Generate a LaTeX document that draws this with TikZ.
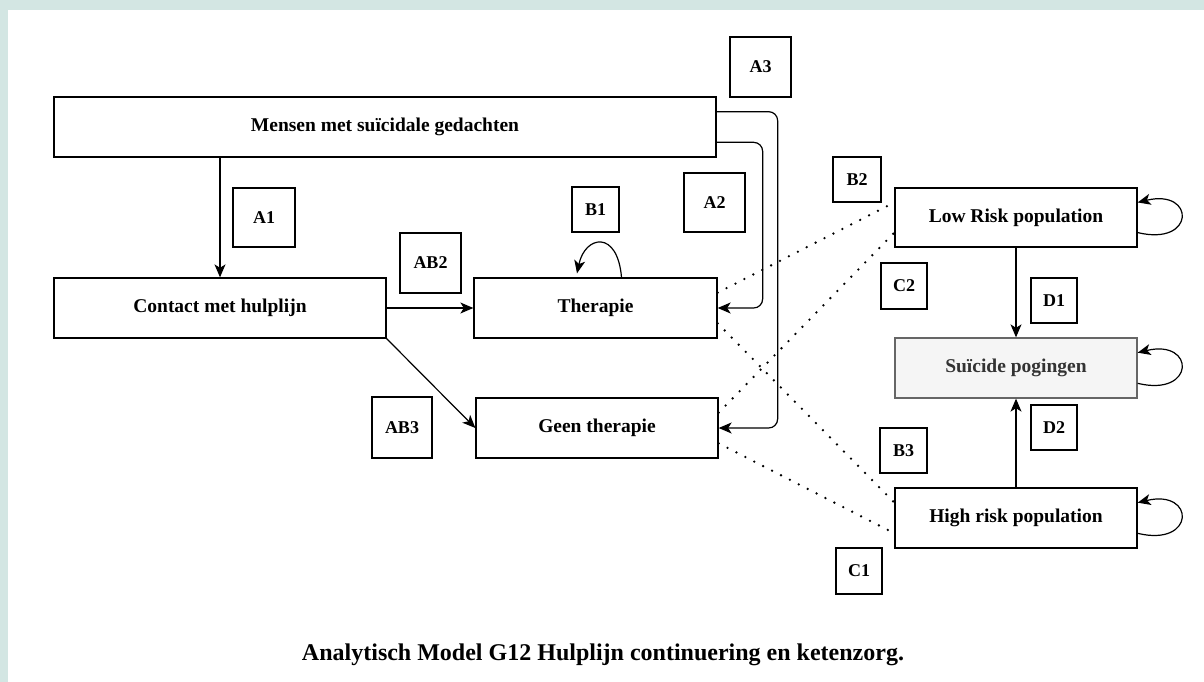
\documentclass[tikz,border=0pt]{standalone}
\usepackage{fontspec}
\setmainfont{Liberation Serif}
\usetikzlibrary{arrows.meta,calc}
\definecolor{frame}{HTML}{D3E6E3}
\begin{document}
\begin{tikzpicture}[x=1pt,y=-1pt,
  box/.style={draw,line width=1.3pt,inner sep=0pt,
    font=\bfseries\fontsize{19.5}{21}\selectfont},
  tag/.style={draw,line width=1.3pt,inner sep=0pt,
    font=\bfseries\fontsize{18}{19}\selectfont},
  arr/.style={line width=1.2pt,-{Stealth[length=13pt,width=11pt,inset=3.5pt]}},
  dots/.style={line width=2.6pt,line cap=round,dash pattern=on 0pt off 10pt}]
% page and frame
\useasboundingbox (0,0) rectangle (1204,682);
\fill[frame] (0,0) rectangle (1204,682);
\fill[white] (8,10) rectangle (1204,682);

% main boxes
\node[box,minimum width=662pt,minimum height=60pt] (mensen) at (385,127) {Mensen met suïcidale gedachten};
\node[box,minimum width=332pt,minimum height=60pt] (contact) at (220,308) {Contact met hulplijn};
\node[box,minimum width=243pt,minimum height=60pt] (therapie) at (595.5,308) {Therapie};
\node[box,minimum width=242pt,minimum height=60pt] (geen) at (597,428) {Geen therapie};
\node[box,minimum width=242pt,minimum height=59pt] (low) at (1016,217.5) {Low Risk population};
\node[box,draw=black!60,fill=black!4,text=black!80,minimum width=242pt,minimum height=60pt] (suicide) at (1016,368) {Suïcide pogingen};
\node[box,minimum width=242pt,minimum height=60pt] (high) at (1016,518) {High risk population};

% label boxes
\node[tag,minimum width=62pt,minimum height=59pt] (tA1) at (264,217.5) {A1};
\node[tag,minimum width=61pt,minimum height=59pt] (tA2) at (714.5,202.5) {A2};
\node[tag,minimum width=61pt,minimum height=60pt] (tA3) at (760.5,67) {A3};
\node[tag,minimum width=61pt,minimum height=60pt] (tAB2) at (430.5,263) {AB2};
\node[tag,minimum width=60pt,minimum height=61pt] (tAB3) at (402,427.5) {AB3};
\node[tag,minimum width=47pt,minimum height=45pt] (tB1) at (595.5,209.5) {B1};
\node[tag,minimum width=48pt,minimum height=45pt] (tB2) at (857,179.5) {B2};
\node[tag,minimum width=47pt,minimum height=45pt] (tB3) at (903.5,450.5) {B3};
\node[tag,minimum width=46pt,minimum height=46pt] (tC1) at (859,571) {C1};
\node[tag,minimum width=46pt,minimum height=46pt] (tC2) at (904,286) {C2};
\node[tag,minimum width=46pt,minimum height=45pt] (tD1) at (1054,300.5) {D1};
\node[tag,minimum width=46pt,minimum height=45pt] (tD2) at (1054,427.5) {D2};

% solid flows
\draw[arr] (contact.north |- mensen.south) -- (contact.north);
\draw[arr] (contact.east) -- (therapie.west);
\draw[arr] (contact.south east) -- (geen.west);
\draw[arr,rounded corners=9pt] ($(mensen.north east)!0.25!(mensen.south east)$) -- ++(61,0) |- (geen.east);
\draw[arr,rounded corners=9pt] ($(mensen.north east)!0.75!(mensen.south east)$) -- ++(46,0) |- (therapie.east);
\draw[arr] (low.south) -- (suicide.north);
\draw[arr] (high.north) -- (suicide.south);

% self loops
\draw[arr] ($(therapie.north)+(26,0)$) .. controls +(-4,-48) and +(8,-38) .. ($(therapie.north)+(-18.5,-4)$);
\foreach \n in {low,suicide,high}
  \draw[arr] ($(\n.north east)!0.75!(\n.south east)$) .. controls +(58,14) and +(58,-14) .. ($(\n.north east)!0.25!(\n.south east)$);

% dotted links between care paths and risk groups
\draw[dots] ($(therapie.north east)!0.25!(therapie.south east)$) -- ($(low.north west)!0.25!(low.south west)$);
\draw[dots] ($(geen.north east)!0.25!(geen.south east)$) -- ($(low.north west)!0.75!(low.south west)$);
\draw[dots] ($(therapie.north east)!0.75!(therapie.south east)$) -- ($(high.north west)!0.25!(high.south west)$);
\draw[dots] ($(geen.north east)!0.75!(geen.south east)$) -- ($(high.north west)!0.75!(high.south west)$);

% caption
\node[font=\bfseries\fontsize{24}{26}\selectfont] (caption) at (603,655) {Analytisch Model G12 Hulplijn continuering en ketenzorg.};
\end{tikzpicture}
\end{document}
